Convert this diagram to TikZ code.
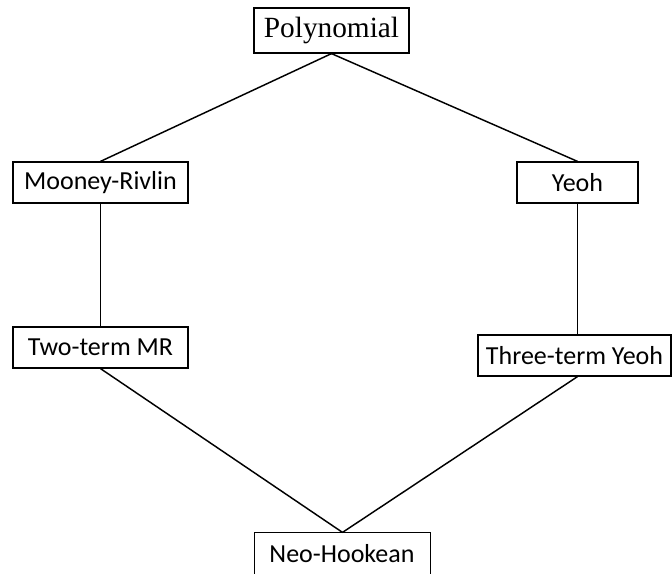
\documentclass[tikz,border=0pt]{standalone}
\usepackage{fontspec}
\setmainfont{Carlito}
\newfontfamily\timesfont{Liberation Serif}
\usepackage{tikz}
\usetikzlibrary{positioning}

\begin{document}
\begin{tikzpicture}[x=0.75pt,y=-0.75pt,
  model/.style={draw,line width=0.9pt,inner sep=0pt,minimum height=30.75pt,font=\fontsize{19.5}{22}\selectfont},
  link/.style={line width=1.1pt}]

  \useasboundingbox (0,0) rectangle (672,574);
  \clip (0,0) rectangle (672,574);

  \node[model,minimum width=116.25pt,minimum height=33.75pt,font=\timesfont\fontsize{22}{24}\selectfont] (poly) at (331.5,30.5) {Polynomial};
  \node[model,minimum width=131.25pt] (mr) at (100.5,182.5) {Mooney-Rivlin};
  \node[model,minimum width=90.75pt] (yeoh) at (577.5,182.5) {Yeoh};
  \node[model,minimum width=131.25pt] (tmr) at (100.5,347.5) {Two-term MR};
  \node[model,minimum width=144.75pt] (tty) at (574.5,355.5) {Three-term Yeoh};
  \node[model,draw=none,minimum width=131.25pt,minimum height=45pt] (neo) at (342.5,563) {};
  \node[font=\fontsize{19.5}{22}\selectfont] (neotext) at (342,553.5) {Neo-Hookean};
  \draw[line width=0.9pt] (neo.south west) -- (neo.north west) -- (neo.north east) -- (neo.south east);

  \draw[link] (poly.south) -- (mr.north);
  \draw[link] (poly.south) -- (yeoh.north);
  \draw[link] (mr.south) -- (tmr.north);
  \draw[link] (yeoh.south) -- (yeoh.south |- tty.north);
  \draw[link] (tmr.south) -- (neo.north);
  \draw[link] (yeoh.south |- tty.south) -- (neo.north);

\end{tikzpicture}
\end{document}
